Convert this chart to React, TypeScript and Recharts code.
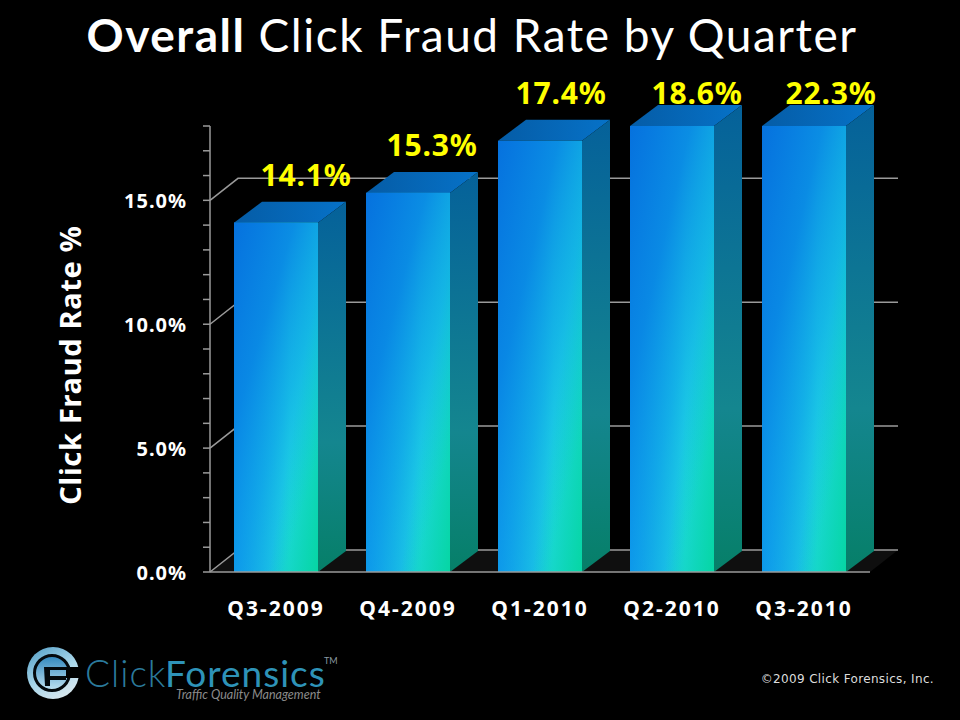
import { BarChart, Bar, XAxis, YAxis, CartesianGrid, LabelList } from 'recharts';

const quarters = ['Q3-2009', 'Q4-2009', 'Q1-2010', 'Q2-2010', 'Q3-2010'];
const fraudRates = [14.1, 15.3, 17.4, 18.6, 22.3];
const yTicks = [0, 1, 2, 3, 4, 5, 6, 7, 8, 9, 10, 11, 12, 13, 14, 15, 16, 17, 18];
const gridValues = [0, 5, 10, 15];
const axisMax = 18;

// the axis stops at 18%, taller bars are cut there but keep their real label
const data = quarters.map((quarter, i) => ({
  quarter,
  rate: fraudRates[i],
  drawn: Math.min(fraudRates[i], axisMax),
}));

const DEPTH_X = 28;
const DEPTH_Y = 21;
const LABEL_NUDGE = [30, 24, 21, 25, 27];
const AXIS_GRAY = '#9a9a9a';
const FONT = '"Noto Sans", sans-serif';

const Bar3D = (props: any) => {
  const { x, y, width, height } = props;
  const r = x + width;
  const b = y + height;
  return (
    <g>
      <polygon
        points={`${x},${y} ${x + DEPTH_X},${y - DEPTH_Y} ${r + DEPTH_X},${y - DEPTH_Y} ${r},${y}`}
        fill="url(#topFace)"
      />
      <polygon
        points={`${r},${y} ${r + DEPTH_X},${y - DEPTH_Y} ${r + DEPTH_X},${b - DEPTH_Y} ${r},${b}`}
        fill="url(#sideFace)"
      />
      <rect x={x} y={y} width={width} height={height} fill="url(#frontBase)" />
      <rect x={x} y={y} width={width} height={height} fill="url(#frontGreen)" />
      <rect x={x} y={y} width={width} height={height} fill="url(#frontShade)" />
    </g>
  );
};

const BackWallLine = (props: any) => {
  const { x1, y1, x2, y, height } = props;
  const floor = y1 === y + height;
  return (
    <g key={props.key}>
      {floor && (
        <polygon
          points={`${x1},${y1} ${x1 + DEPTH_X},${y1 - DEPTH_Y - 1} ${x2 + DEPTH_X},${y1 - DEPTH_Y - 1} ${x2},${y1}`}
          fill="#0f0f0f"
        />
      )}
      <polyline
        points={`${x1},${y1} ${x1 + DEPTH_X},${y1 - DEPTH_Y - 1} ${x2 + DEPTH_X},${y1 - DEPTH_Y - 1}`}
        fill="none"
        stroke={AXIS_GRAY}
        strokeWidth={1.5}
      />
    </g>
  );
};

const RateTick = (props: any) => {
  const { x, y, payload } = props;
  if (payload.value % 5 !== 0) return <g />;
  return (
    <text x={x} y={y + 8} textAnchor="end" fill="#fff" fontFamily={FONT} fontWeight={700} fontSize={20} letterSpacing={1}>
      {payload.value.toFixed(1)}%
    </text>
  );
};

const RateLabel = (props: any) => {
  const { x, y, width, value, index } = props;
  return (
    <text
      x={x + width / 2 + LABEL_NUDGE[index]}
      y={Math.max(y - 37, 104)}
      textAnchor="middle"
      fill="#ffff00"
      fontFamily={FONT}
      fontWeight={700}
      fontSize={30}
      letterSpacing={0.8}
    >
      {value.toFixed(1)}%
    </text>
  );
};

const Logo = () => (
  <g>
    <circle cx={53} cy={673} r={26} fill="url(#logoRing)" />
    <circle cx={52} cy={673} r={17.5} fill="url(#logoDisc)" stroke="#04090d" strokeWidth={3} />
    <rect x={66} y={667} width={16} height={11} fill="#000" />
    <path d="M44 667 H70 V670 H50 V676 H66 V680 H50 V686 H45 Z" fill="#04090d" />
    <text x={85} y={687} fill="#2b7a9c" fontFamily="Lato, sans-serif" fontWeight={300} fontSize={37} letterSpacing={1}>
      Click
    </text>
    <text x={165} y={687} fill="#2e93b8" fontFamily="Lato, sans-serif" fontWeight={400} fontSize={37} letterSpacing={1}>
      Forensics
    </text>
    <text x={324} y={664} fill="#8a9aa2" fontFamily="Lato, sans-serif" fontSize={9}>
      TM
    </text>
    <text x={176} y={699} fill="#8b8b8b" fontFamily="Lato, sans-serif" fontStyle="italic" fontSize={12.5}>
      Traffic Quality Management
    </text>
  </g>
);

export default function App() {
  return (
    <div style={{ position: 'absolute', left: 0, top: 0, width: 960, height: 720, background: '#000', overflow: 'hidden' }}>
      <BarChart width={960} height={720} data={data} margin={{ top: 126, right: 90, bottom: 0, left: 120 }}>
        <defs>
          <linearGradient id="frontBase" x1="0" y1="0" x2="1" y2="0">
            <stop offset="0" stopColor="#0f96ea" />
            <stop offset="0.66" stopColor="#20d8e2" />
            <stop offset="1" stopColor="#1cd6dc" />
          </linearGradient>
          <linearGradient id="frontGreen" x1="0.6" y1="0.72" x2="1" y2="1">
            <stop offset="0" stopColor="#06d6a4" stopOpacity={0} />
            <stop offset="1" stopColor="#06d6a4" stopOpacity={1} />
          </linearGradient>
          <linearGradient id="frontShade" x1="0" y1="0" x2="0.8" y2="1">
            <stop offset="0" stopColor="#0672de" stopOpacity={1} />
            <stop offset="0.35" stopColor="#0885e4" stopOpacity={0.9} />
            <stop offset="0.62" stopColor="#0c9cea" stopOpacity={0.55} />
            <stop offset="0.9" stopColor="#14b4e8" stopOpacity={0} />
          </linearGradient>
          <linearGradient id="sideFace" x1="0" y1="0" x2="0" y2="1">
            <stop offset="0" stopColor="#05619a" />
            <stop offset="0.65" stopColor="#14868f" />
            <stop offset="1" stopColor="#067f68" />
          </linearGradient>
          <linearGradient id="topFace" x1="0" y1="0" x2="1" y2="0">
            <stop offset="0" stopColor="#055ca6" />
            <stop offset="1" stopColor="#0672c8" />
          </linearGradient>
          <linearGradient id="logoRing" x1="0" y1="0" x2="0.6" y2="1">
            <stop offset="0" stopColor="#4f9cc4" />
            <stop offset="0.6" stopColor="#a9d6ea" />
            <stop offset="1" stopColor="#d5e6ee" />
          </linearGradient>
          <linearGradient id="logoDisc" x1="0" y1="0" x2="0" y2="1">
            <stop offset="0" stopColor="#2f86bd" />
            <stop offset="1" stopColor="#bfe2f2" />
          </linearGradient>
        </defs>
        <CartesianGrid horizontal={BackWallLine as any} vertical={false} horizontalValues={gridValues} />
        <XAxis
          dataKey="quarter"
          height={148}
          axisLine={{ stroke: AXIS_GRAY, strokeWidth: 1.5 }}
          tickLine={false}
          tickMargin={23}
          tick={{ fill: '#fff', fontFamily: FONT, fontWeight: 700, fontSize: 21, letterSpacing: 2 }}
        />
        <YAxis
          width={90}
          domain={[0, axisMax]}
          ticks={yTicks}
          interval={0}
          axisLine={{ stroke: AXIS_GRAY, strokeWidth: 1.5 }}
          tickLine={{ stroke: AXIS_GRAY, strokeWidth: 1.5 }}
          tickSize={7}
          tickMargin={16}
          tick={RateTick}
        />
        <Bar dataKey="drawn" barSize={84} isAnimationActive={false} shape={Bar3D}>
          <LabelList dataKey="rate" content={RateLabel} />
        </Bar>
        <text x={472} y={52} textAnchor="middle" fill="#fff" fontFamily="Lato, sans-serif" fontSize={46} letterSpacing={1.5}>
          <tspan fontWeight={700}>Overall</tspan> Click Fraud Rate by Quarter
        </text>
        <text
          transform="rotate(-90 81 365)"
          x={81}
          y={365}
          textAnchor="middle"
          fill="#fff"
          fontFamily={FONT}
          fontWeight={700}
          fontSize={29}
          letterSpacing={0.7}
        >
          Click Fraud Rate %
        </text>
        <Logo />
        <text x={934} y={683} textAnchor="end" fill="#ddd" fontFamily="DejaVu Sans, sans-serif" fontSize={12} letterSpacing={0.35}>
          ©2009 Click Forensics, Inc.
        </text>
      </BarChart>
    </div>
  );
}
